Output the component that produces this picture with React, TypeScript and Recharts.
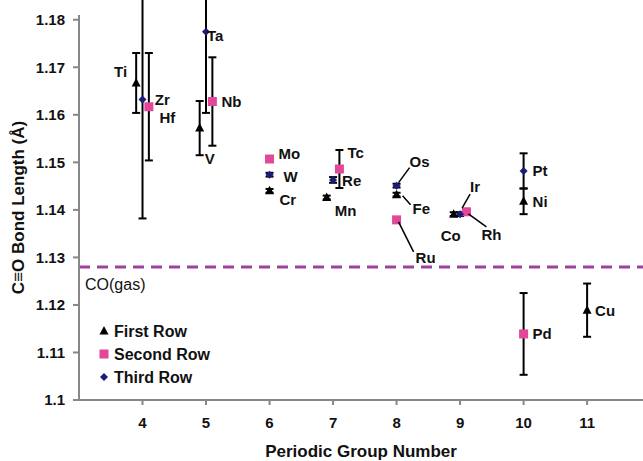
import { ScatterChart, Scatter, XAxis, YAxis, ErrorBar, ReferenceLine } from "recharts";

// first row (3d) metals
const firstRowNames = ["Ti", "V", "Cr", "Mn", "Fe", "Co", "Ni", "Cu"];
const firstRowGroups = [3.9, 4.9, 6, 6.9, 8, 8.9, 10, 11];
const firstRowLengths = [1.1667, 1.1572, 1.144, 1.1426, 1.1432, 1.1391, 1.1418, 1.1189];
const firstRowErrors = [0.0063, 0.0057, 0.0004, 0.0004, 0.0004, 0.0004, 0.0027, 0.0056];

// second row (4d) metals
const secondRowNames = ["Zr", "Nb", "Mo", "Tc", "Ru", "Rh", "Pd"];
const secondRowGroups = [4.1, 5.1, 6, 7.1, 8, 9.1, 10];
const secondRowLengths = [1.1617, 1.1628, 1.1507, 1.1486, 1.1379, 1.1396, 1.1139];
const secondRowErrors = [0.0113, 0.0093, 0.0003, 0.004, 0, 0.0004, 0.0086];

// third row (5d) metals
const thirdRowNames = ["Hf", "Ta", "W", "Re", "Os", "Ir", "Pt"];
const thirdRowGroups = [4, 5, 6, 7, 8, 9, 10];
const thirdRowLengths = [1.1632, 1.1775, 1.1474, 1.1463, 1.1451, 1.1391, 1.1482];
const thirdRowErrors = [0.025, 0.0171, 0.0004, 0.0006, 0.0004, 0.0004, 0.0037];

const coGas = 1.128;
const xTicks = [4, 5, 6, 7, 8, 9, 10, 11];
const yTicks = [1.1, 1.11, 1.12, 1.13, 1.14, 1.15, 1.16, 1.17, 1.18];

const PINK = "#e2479a";
const NAVY = "#1c1c78";
const PURPLE = "#a0409f";
const AXIS = "#878787";

// where each element's name sits relative to its marker
const labelPlacement: Record<string, { dx: number; dy: number; anchor?: string; leader?: number[] }> = {
  Ti: { dx: -9, dy: -11, anchor: "end" },
  V: { dx: 5, dy: 30 },
  Cr: { dx: 10, dy: 9 },
  Mn: { dx: 8, dy: 13 },
  Fe: { dx: 16, dy: 14, leader: [6, 1, 14, 10] },
  Co: { dx: -13, dy: 21 },
  Ni: { dx: 9, dy: 0 },
  Cu: { dx: 8, dy: 0 },
  Zr: { dx: 6, dy: -7 },
  Nb: { dx: 9, dy: 0 },
  Mo: { dx: 9, dy: -5 },
  Tc: { dx: 8, dy: -16 },
  Ru: { dx: 19, dy: 38, leader: [2, 2, 17, 32] },
  Rh: { dx: 15, dy: 23, leader: [2, 2, 20, 15] },
  Pd: { dx: 9, dy: 0 },
  Hf: { dx: 17, dy: 18 },
  Ta: { dx: 1, dy: 4 },
  W: { dx: 14, dy: 2 },
  Re: { dx: 9, dy: 1 },
  Os: { dx: 13, dy: -24, leader: [2, -3, 13, -18] },
  Ir: { dx: 10, dy: -28, leader: [2, -6, 10, -20] },
  Pt: { dx: 9, dy: 0 },
};

const build = (names: string[], groups: number[], lengths: number[], errors: number[]) =>
  names.map((name, i) => ({ name, group: groups[i], length: lengths[i], err: errors[i] }));

const firstRow = build(firstRowNames, firstRowGroups, firstRowLengths, firstRowErrors);
const secondRow = build(secondRowNames, secondRowGroups, secondRowLengths, secondRowErrors);
const thirdRow = build(thirdRowNames, thirdRowGroups, thirdRowLengths, thirdRowErrors);

const ElementLabel = ({ cx, cy, name }: any) => {
  const p = labelPlacement[name];
  if (!p) return null;
  return (
    <g>
      {p.leader && (
        <line
          x1={cx + p.leader[0]}
          y1={cy + p.leader[1]}
          x2={cx + p.leader[2]}
          y2={cy + p.leader[3]}
          stroke="#000"
          strokeWidth={1.5}
        />
      )}
      <text
        x={cx + p.dx}
        y={cy + p.dy}
        dy="0.36em"
        textAnchor={p.anchor || "start"}
        fontSize={15}
        fontWeight="bold"
        fill="#111"
      >
        {name}
      </text>
    </g>
  );
};

const triangle = (cx: number, cy: number) =>
  `${cx},${cy - 5} ${cx + 4.5},${cy + 3.5} ${cx - 4.5},${cy + 3.5}`;
const diamond = (cx: number, cy: number) =>
  `${cx},${cy - 4} ${cx + 4},${cy} ${cx},${cy + 4} ${cx - 4},${cy}`;

const TriangleShape = (props: any) => (
  <g>
    <polygon points={triangle(props.cx, props.cy)} fill="#000" />
    <ElementLabel cx={props.cx} cy={props.cy} name={props.payload.name} />
  </g>
);

const SquareShape = (props: any) => (
  <g>
    <rect x={props.cx - 4.5} y={props.cy - 4.5} width={9} height={9} fill={PINK} />
    <ElementLabel cx={props.cx} cy={props.cy} name={props.payload.name} />
  </g>
);

const DiamondShape = (props: any) => (
  <g>
    <polygon points={diamond(props.cx, props.cy)} fill={NAVY} />
    <ElementLabel cx={props.cx} cy={props.cy} name={props.payload.name} />
  </g>
);

const GasLabel = (props: any) => {
  const vb = props.viewBox || {};
  return (
    <text x={vb.x + 6} y={vb.y + 17} dy="0.36em" fontSize={16} fill="#111">
      CO(gas)
    </text>
  );
};

const tickStyle = { fontSize: 15, fontWeight: "bold", fill: "#111" };

const App = () => {
  return (
    <div style={{ position: "relative", width: 643, height: 461, fontFamily: "'Liberation Sans', Arial, sans-serif" }}>
      <style>{`body{margin:0}`}</style>
      <ScatterChart width={643} height={461} margin={{ top: 15, right: 0, left: 0, bottom: 0 }}>
        <XAxis
          type="number"
          dataKey="group"
          domain={[3, 11.88]}
          ticks={xTicks}
          allowDataOverflow
          height={61}
          stroke={AXIS}
          strokeWidth={2}
          tickSize={5}
          tickMargin={12}
          tick={tickStyle}
          label={{
            value: "Periodic Group Number",
            position: "insideBottom",
            offset: 0,
            dy: -4,
            fontSize: 17,
            fontWeight: "bold",
            fill: "#111",
          }}
        />
        <YAxis
          type="number"
          dataKey="length"
          domain={[1.1, 1.181]}
          ticks={yTicks}
          allowDataOverflow
          width={79}
          stroke={AXIS}
          strokeWidth={2}
          tickSize={6}
          tickMargin={8}
          tick={tickStyle}
          tickFormatter={(v: number) => String(+v.toFixed(2))}
          label={{
            value: "C\u2261O Bond Length (\u00C5)",
            angle: -90,
            position: "insideLeft",
            offset: 0,
            dx: 18,
            dy: 0,
            fontSize: 17,
            fontWeight: "bold",
            fill: "#111",
            style: { textAnchor: "middle" },
          }}
        />
        <ReferenceLine
          y={coGas}
          stroke={PURPLE}
          strokeWidth={3}
          strokeDasharray="11 7"
          label={GasLabel}
        />
        <Scatter data={firstRow} shape={TriangleShape} isAnimationActive={false}>
          <ErrorBar dataKey="err" direction="y" width={4} stroke="#000" strokeWidth={2} isAnimationActive={false} />
        </Scatter>
        <Scatter data={secondRow} shape={SquareShape} isAnimationActive={false}>
          <ErrorBar dataKey="err" direction="y" width={4} stroke="#000" strokeWidth={2} isAnimationActive={false} />
        </Scatter>
        <Scatter data={thirdRow} shape={DiamondShape} isAnimationActive={false}>
          <ErrorBar dataKey="err" direction="y" width={4} stroke="#000" strokeWidth={2} isAnimationActive={false} />
        </Scatter>
      </ScatterChart>
      <svg
        width={200}
        height={80}
        style={{ position: "absolute", left: 94, top: 318, pointerEvents: "none" }}
        fontSize={16}
        fontWeight="bold"
      >
        <polygon points={triangle(10, 13)} fill="#000" />
        <text x={20} y={13} dy="0.36em" fill="#111">First Row</text>
        <rect x={5.5} y={31.5} width={9} height={9} fill={PINK} />
        <text x={20} y={36} dy="0.36em" fill="#111">Second Row</text>
        <polygon points={diamond(10, 59)} fill={NAVY} />
        <text x={20} y={59} dy="0.36em" fill="#111">Third Row</text>
      </svg>
    </div>
  );
};

export default App;
